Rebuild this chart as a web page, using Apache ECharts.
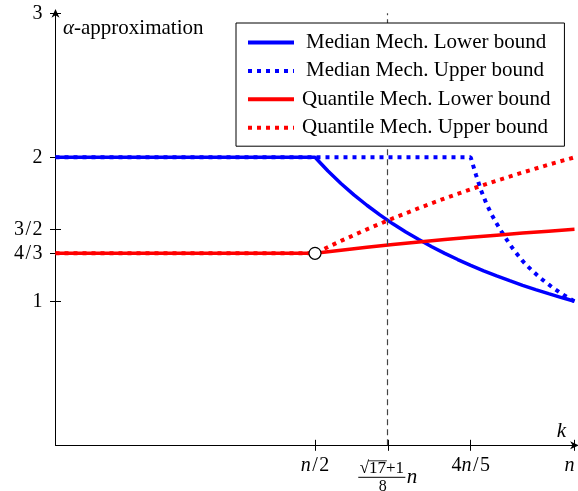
<!DOCTYPE html>
<html><head><meta charset="utf-8">
<script src="https://cdn.jsdelivr.net/npm/echarts@6/dist/echarts.min.js"></script>
<style>html,body{margin:0;padding:0;background:#fff}#c{width:578px;height:491px}</style>
</head><body><div id="c"></div>
<script>
// ---- data ----
const seriesNames = ['Median Mech. Lower bound', 'Median Mech. Upper bound', 'Quantile Mech. Lower bound', 'Quantile Mech. Upper bound'];
const xTicks = [0.5, 0.6404, 0.8, 1];
const xTickLabels = ['{i|n}{s|/}2', '', '4{i|n}{s|/}5', '{i|n}'];
const yTicks = [1, 1.3333, 1.5, 2, 3];
const yTickLabels = ['1', '4{s|/}3', '3{s|/}2', '2', '3'];
const thresholdX = 0.6404;
const openPoint = [0.5, 1.3333];
const medianLower = [[0,2],[0.5,2],[0.525,1.905],[0.55,1.818],[0.575,1.739],[0.6,1.667],[0.625,1.6],[0.65,1.538],[0.675,1.481],[0.7,1.429],[0.725,1.379],[0.75,1.333],[0.775,1.29],[0.8,1.25],[0.825,1.212],[0.85,1.176],[0.875,1.143],[0.9,1.111],[0.925,1.081],[0.95,1.053],[0.975,1.026],[1,1]];
const medianUpper = [[0,2],[0.8,2],[0.81,1.88],[0.82,1.77],[0.83,1.68],[0.84,1.605],[0.85,1.54],[0.86,1.48],[0.87,1.425],[0.88,1.372],[0.89,1.325],[0.9,1.28],[0.91,1.242],[0.92,1.208],[0.93,1.175],[0.94,1.145],[0.95,1.117],[0.96,1.09],[0.97,1.065],[0.98,1.042],[0.99,1.02],[1,1]];
const quantileLower = [[0,1.3333],[0.5,1.3333],[0.55,1.3548],[0.6,1.375],[0.65,1.3939],[0.7,1.4118],[0.75,1.4286],[0.8,1.4444],[0.85,1.4595],[0.9,1.4737],[0.95,1.4872],[1,1.5]];
const quantileUpper = [[0,1.3333],[0.5,1.3333],[0.55,1.4194],[0.6,1.5],[0.65,1.5758],[0.7,1.6471],[0.75,1.7143],[0.8,1.7778],[0.85,1.8378],[0.9,1.8947],[0.95,1.9487],[1,2]];

// ---- chart ----
const FONT = "'Liberation Serif','DejaVu Serif',serif";
const BLUE = '#0000ff', RED = '#ff0000';
const arrow = 'path://M5,0 L10,11 L5,8 L0,11 Z';
const chart = echarts.init(document.getElementById('c'), null, {renderer: 'canvas'});

function lineSeries(name, data, color, dotted, z) {
  return {
    name, type: 'line', data, showSymbol: false, symbol: 'none', z,
    lineStyle: dotted ? {color, width: 4, type: [4, 5], cap: 'butt'} : {color, width: 3.5},
    itemStyle: {color},
    animation: false
  };
}

const tickRich = {
  i: {fontStyle: 'italic', fontFamily: FONT, fontSize: 20, color: '#000'},
  s: {fontFamily: FONT, fontSize: 20, color: '#000', padding: [0, 1.5, 0, 1.5]}
};

chart.setOption({
  animation: false,
  backgroundColor: '#fff',
  grid: {left: 55.5, right: 3.5, top: 13.3, bottom: 45.7, containLabel: false, outerBoundsMode: 'none'},
  xAxis: [{
    type: 'value', min: 0, max: 1,
    axisLine: {show: true, lineStyle: {color: '#000', width: 1}, symbol: ['none', arrow], symbolSize: [8, 10]},
    axisTick: {show: true, length: 5.5, customValues: xTicks, lineStyle: {color: '#000'}},
    axisLabel: {show: true, customValues: xTicks, margin: 10, color: '#000', fontFamily: FONT, fontSize: 20,
      formatter: v => { const i = xTicks.findIndex(t => Math.abs(t - v) < 1e-6); return i >= 0 ? xTickLabels[i] : ''; },
      rich: tickRich, alignMaxLabel: 'right'},
    splitLine: {show: false}
  }, {
    type: 'value', min: 0, max: 1, position: 'top',
    axisLine: {show: false, onZero: true},
    axisTick: {show: true, length: 5.5, customValues: xTicks, lineStyle: {color: '#000'}},
    axisLabel: {show: false}, splitLine: {show: false}
  }],
  yAxis: [{
    type: 'value', min: 0, max: 3,
    axisLine: {show: true, lineStyle: {color: '#000', width: 1}, symbol: ['none', arrow], symbolSize: [8, 10]},
    axisTick: {show: true, length: 5.5, customValues: yTicks, lineStyle: {color: '#000'}},
    axisLabel: {show: true, customValues: yTicks, margin: 13, color: '#000', fontFamily: FONT, fontSize: 20,
      formatter: v => { const i = yTicks.findIndex(t => Math.abs(t - v) < 1e-3); return i >= 0 ? yTickLabels[i] : ''; },
      rich: tickRich},
    splitLine: {show: false}
  }, {
    type: 'value', min: 0, max: 3, position: 'right',
    axisLine: {show: false, onZero: true},
    axisTick: {show: true, length: 5.5, customValues: yTicks, lineStyle: {color: '#000'}},
    axisLabel: {show: false}, splitLine: {show: false}
  }],
  legend: {
    orient: 'vertical', left: 236, top: 23, padding: [9, 14, 8, 10],
    itemWidth: 46, itemHeight: 14, itemGap: 7.4,
    borderColor: '#000', borderWidth: 1, borderRadius: 0, backgroundColor: '#fff',
    itemStyle: {opacity: 0},
    lineStyle: {width: 4},
    textStyle: {fontFamily: FONT, fontSize: 21, color: '#000', lineHeight: 20},
    data: [
      {name: seriesNames[0], textStyle: {padding: [0, 0, 0, 7]}},
      {name: seriesNames[1], textStyle: {padding: [0, 0, 0, 7]}},
      {name: seriesNames[2], textStyle: {padding: [0, 0, 0, 3]}},
      {name: seriesNames[3], textStyle: {padding: [0, 0, 0, 3]}}
    ],
    selectedMode: false, z: 10
  },
  series: [
    Object.assign(lineSeries(seriesNames[0], medianLower, BLUE, false, 2), {
      markLine: {silent: true, symbol: ['none', 'none'], label: {show: false},
        lineStyle: {color: '#444', width: 1.2, type: [6, 4]}, data: [{xAxis: thresholdX}], animation: false}
    }),
    lineSeries(seriesNames[1], medianUpper, BLUE, true, 3),
    lineSeries(seriesNames[2], quantileLower, RED, false, 4),
    lineSeries(seriesNames[3], quantileUpper, RED, true, 5),
    {type: 'scatter', data: [openPoint], symbol: 'circle', symbolSize: 12, z: 6,
     itemStyle: {color: '#fff', borderColor: '#000', borderWidth: 1.2, opacity: 1}, animation: false}
  ]
});

// ---- annotation texts placed through the axes ----
const X = chart.convertToPixel({xAxisIndex: 0}, thresholdX);
const Y0 = chart.convertToPixel({yAxisIndex: 0}, 0);
const XR = chart.convertToPixel({xAxisIndex: 0}, 1);
const Y3 = chart.convertToPixel({yAxisIndex: 0}, 3);
chart.setOption({
  graphic: [
    {type: 'text', x: 63, y: Y3 + 15.5, z: 20, style: {text: '{a|α}-approximation', fontFamily: FONT, fontSize: 21, fill: '#000',
      verticalAlign: 'middle', rich: {a: {fontStyle: 'italic', fontFamily: FONT, fontSize: 21}}}},
    {type: 'text', x: XR - 13, y: Y0 - 14, z: 20, style: {text: 'k', fontFamily: FONT, fontStyle: 'italic', fontSize: 21, fill: '#000', align: 'center', verticalAlign: 'middle'}},
    {type: 'text', x: X - 6, y: Y0 + 23, z: 20, style: {text: '√17+1', fontFamily: FONT, fontSize: 17, fill: '#000', align: 'center', verticalAlign: 'middle'}},
    {type: 'line', z: 20, shape: {x1: X - 20, y1: Y0 + 15.5, x2: X - 1, y2: Y0 + 15.5}, style: {stroke: '#000', lineWidth: 0.8}},
    {type: 'line', z: 20, shape: {x1: X - 29.6, y1: Y0 + 32, x2: X + 17.5, y2: Y0 + 32}, style: {stroke: '#000', lineWidth: 1}},
    {type: 'text', x: X - 5.2, y: Y0 + 41, z: 20, style: {text: '8', fontFamily: FONT, fontSize: 16, fill: '#000', align: 'center', verticalAlign: 'middle'}},
    {type: 'text', x: X + 19, y: Y0 + 32.5, z: 20, style: {text: 'n', fontFamily: FONT, fontStyle: 'italic', fontSize: 21, fill: '#000', align: 'left', verticalAlign: 'middle'}}
  ]
});
</script></body></html>
